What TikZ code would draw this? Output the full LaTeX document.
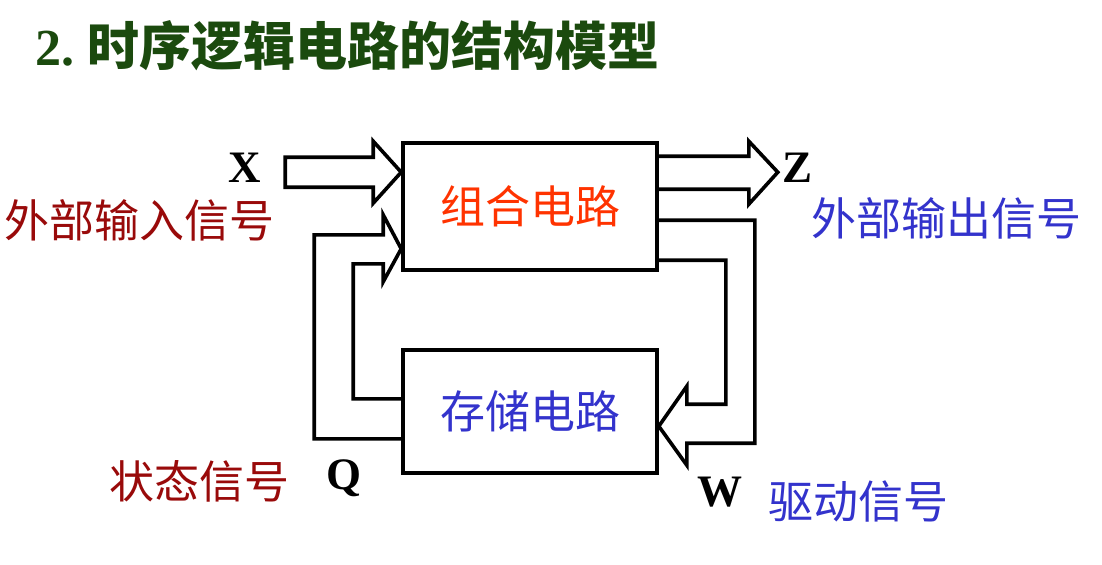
\documentclass[tikz,border=0pt]{standalone}
\usepackage{fontspec}
\setmainfont{Liberation Serif}
\newfontfamily\cjk{Noto Sans CJK SC}
\usetikzlibrary{positioning,calc}
\definecolor{titlegreen}{HTML}{1B4A0E}
\definecolor{inred}{HTML}{990A0A}
\definecolor{combred}{HTML}{FF3300}
\definecolor{outblue}{HTML}{3333CC}
\tikzset{
  block/.style={draw, line width=1.8pt, minimum width=127pt, minimum height=63.5pt, inner sep=0pt},
  hollow/.style={draw, line width=1.8pt, line join=miter},
  sig/.style={font=\cjk\fontsize{22.5}{26}\selectfont},
  letter/.style={font=\fontsize{22.5}{26}\selectfont\bfseries},
}
\begin{document}
\begin{tikzpicture}[x=0.5pt,y=-0.5pt]
\useasboundingbox (0,0) rectangle (1102,564);
% title
\node[anchor=west, text=titlegreen, font=\fontsize{26}{30}\selectfont] (title) at (28,46) {\textbf{2.}\ {\cjk\bfseries 时序逻辑电路的结构模型}};
% the two blocks
\node[block, sig, text=combred] (comb) at (530,206.5) {组合电路};
\node[block, sig, text=outblue, minimum height=61.5pt] (mem) at (530,411.5) {存储电路};
% input X
\draw[hollow] ($(comb.north west)+(-116,16)$) -- ++(88,0) -- ++(0,-16) -- ($(comb.north west)+(0,31)$) -- ++(-28,31) -- ++(0,-16) -- ++(-88,0) -- cycle;
% output Z
\draw[hollow] ($(comb.north east)+(0,15)$) -- ++(90,0) -- ++(0,-15) -- ++(29,31) -- ++(-29,32) -- ++(0,-15) -- ++(-90,0);
% drive W
\draw[hollow] ($(comb.north east)+(0,79)$) -- ++(96,0) -- ++(0,223) -- ++(-68,0) -- ++(0,22) -- ++(-28,-39) -- ++(28,-40) -- ++(0,18) -- ++(39,0) -- ++(0,-144) -- ++(-67,0);
% state Q
\draw[hollow] ($(mem.south west)+(0,-36)$) -- ++(-87,0) -- ++(0,-204) -- ++(69,0) -- ++(0,-20) -- ++(18,34) -- ++(-18,33) -- ++(0,-18) -- ++(-30,0) -- ++(0,135) -- ++(48,0);
% labels
\node[letter] (xlbl) at (245,168) {X};
\node[sig, text=inred] (xsig) at (139,220) {外部输入信号};
\node[letter] (zlbl) at (797,168) {Z};
\node[sig, text=outblue] (zsig) at (946,218) {外部输出信号};
\node[sig, text=inred] (qsig) at (199,481) {状态信号};
\node[letter] (qlbl) at (344,478) {Q};
\node[letter] (wlbl) at (720,492) {W};
\node[sig, text=outblue] (wsig) at (858,501) {驱动信号};
\end{tikzpicture}
\end{document}
